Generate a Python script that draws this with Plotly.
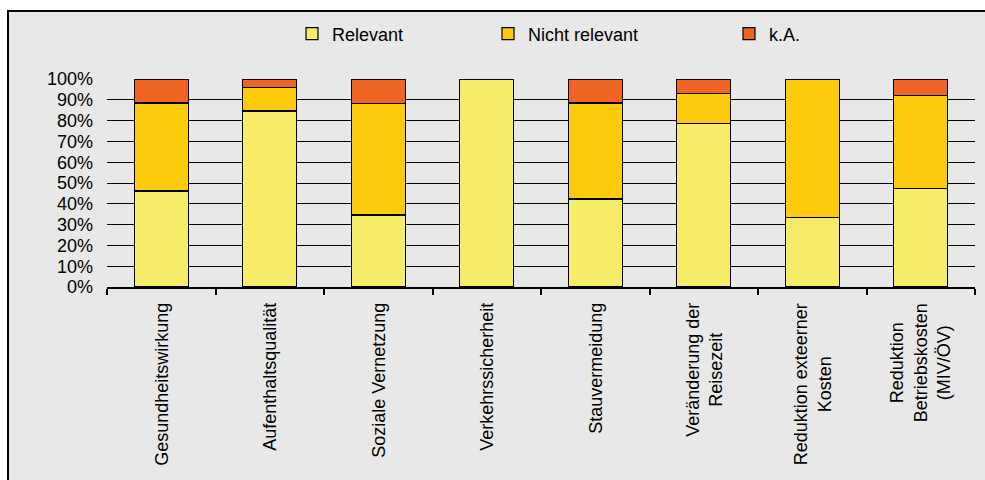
import plotly.graph_objects as go

categories = ["Gesundheitswirkung", "Aufenthaltsqualität", "Soziale Vernetzung",
              "Verkehrssicherheit", "Stauvermeidung", "Veränderung der<br>Reisezeit",
              "Reduktion exteerner<br>Kosten", "Reduktion<br>Betriebskosten<br>(MIV/ÖV)"]
relevant = [46.2, 84.6, 34.6, 100.0, 42.3, 78.6, 33.3, 47.4]
nicht_relevant = [42.3, 11.5, 53.8, 0.0, 46.2, 14.3, 66.7, 44.7]
k_a = [11.5, 3.9, 11.6, 0.0, 11.5, 7.1, 0.0, 7.9]
series_names = ["Relevant", "Nicht relevant", "k.A."]
colors = ["#F6EC68", "#FCCB0B", "#F06524"]
ytick_vals = [i / 10 for i in range(11)]
ytick_text = [f"{i*10}%" for i in range(11)]

FONT = "Liberation Sans, Arial, sans-serif"
fig = go.Figure()
legends = ["legend", "legend2", "legend3"]
for name, vals, col, lg in zip(series_names, [relevant, nicht_relevant, k_a], colors, legends):
    fig.add_trace(go.Bar(
        x=categories, y=[v / 100 for v in vals], name=name, legend=lg,
        marker=dict(color=col, line=dict(color="black", width=1.2)),
    ))

W, H = 985, 480
ml, mr, mt, mb = 107, 10, 79, 193
pw, ph = W - ml - mr, H - mt - mb

def px2x(px):
    return (px - ml) / pw

def py2y(py):
    return (H - mb - py) / ph

leg_common = dict(orientation="h", yanchor="middle", xanchor="left",
                  font=dict(family=FONT, size=18, color="black"),
                  bgcolor="rgba(0,0,0,0)", itemclick=False)
legend_x = [292, 488, 729]
fig.update_layout(
    legend=dict(x=px2x(legend_x[0]), y=py2y(34), **leg_common),
    legend2=dict(x=px2x(legend_x[1]), y=py2y(34), **leg_common),
    legend3=dict(x=px2x(legend_x[2]), y=py2y(34), **leg_common),
)

fig.update_layout(
    barmode="stack", bargap=0.5,
    width=W, height=H,
    margin=dict(l=ml, r=mr, t=mt, b=mb, pad=0),
    paper_bgcolor="white", plot_bgcolor="rgba(0,0,0,0)",
    font=dict(family=FONT, size=18, color="black"),
    showlegend=True,
)
fig.update_yaxes(range=[0, 1], tickvals=ytick_vals, ticktext=ytick_text,
                 showgrid=True, gridcolor="black", gridwidth=1.3,
                 zeroline=False, showline=False, ticks="",
                 ticklabelstandoff=13,
                 tickfont=dict(family=FONT, size=18, color="black"))
fig.update_xaxes(showticklabels=False, showline=True, linecolor="black", linewidth=1.5,
                 ticks="outside", tickson="boundaries", ticklen=6, tickcolor="black",
                 tickwidth=1.5, showgrid=False)

for cat in categories:
    fig.add_annotation(x=cat, xref="x", y=py2y(301), yref="paper",
                       text=cat, textangle=-90, showarrow=False,
                       xanchor="center", yanchor="top", align="center",
                       font=dict(family=FONT, size=18, color="black"))

# chart area box
fig.add_shape(type="rect", xref="paper", yref="paper", layer="below",
              x0=px2x(8), x1=px2x(995), y0=py2y(490), y1=py2y(11),
              fillcolor="#E8E8E8", line=dict(color="black", width=2))

fig.write_html("out.html")
